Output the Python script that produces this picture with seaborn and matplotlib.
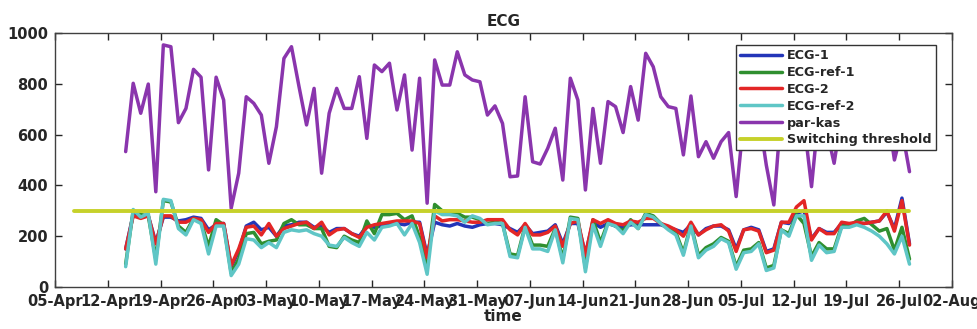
import numpy as np
import pandas as pd
import matplotlib
matplotlib.use("Agg")
import matplotlib.pyplot as plt
import matplotlib.dates as mdates
import seaborn as sns

# ---------------- data ----------------
start_date = "2021-04-14 09:00"
n_days = 105

ecg_1 = [150, 285, 275, 280, 175, 275, 275, 260, 265, 275,
         270, 225, 245, 250, 80, 140, 240, 255, 225, 235,
         200, 240, 245, 255, 255, 235, 240, 215, 230, 230,
         210, 200, 240, 235, 240, 245, 250, 245, 255, 255,
         125, 255, 245, 240, 250, 240, 235, 245, 250, 250,
         245, 230, 215, 245, 210, 215, 220, 245, 170, 250,
         250, 130, 255, 235, 250, 240, 235, 245, 245, 245,
         245, 245, 235, 225, 215, 245, 205, 230, 240, 240,
         225, 150, 225, 235, 225, 140, 150, 255, 250, 290,
         300, 190, 230, 215, 215, 250, 245, 250, 250, 255,
         260, 295, 230, 350, 170]

ecg_ref_1 = [90, 300, 285, 280, 110, 340, 335, 240, 215, 270,
             255, 160, 265, 245, 55, 110, 210, 215, 170, 180,
             185, 250, 265, 245, 245, 230, 230, 160, 155, 200,
             185, 175, 260, 210, 285, 285, 290, 265, 280, 195,
             90, 325, 300, 295, 290, 275, 275, 265, 250, 255,
             250, 130, 125, 240, 165, 165, 160, 230, 110, 275,
             270, 75, 265, 175, 255, 240, 220, 265, 230, 290,
             280, 250, 230, 215, 135, 245, 125, 155, 170, 195,
             180, 80, 145, 150, 175, 75, 85, 225, 210, 285,
             250, 120, 175, 150, 150, 240, 240, 260, 270, 245,
             220, 230, 145, 235, 110]

ecg_2 = [150, 280, 270, 280, 170, 280, 280, 255, 255, 270,
         265, 215, 250, 250, 85, 150, 235, 240, 205, 250,
         200, 230, 240, 250, 255, 230, 255, 205, 225, 230,
         210, 195, 235, 245, 250, 255, 260, 260, 260, 250,
         115, 280, 260, 265, 265, 260, 255, 255, 265, 265,
         265, 225, 205, 250, 205, 205, 215, 240, 160, 250,
         260, 125, 265, 250, 265, 250, 245, 260, 255, 270,
         270, 250, 240, 225, 200, 255, 205, 225, 240, 245,
         220, 140, 225, 230, 220, 135, 145, 255, 255, 315,
         340, 185, 230, 210, 210, 255, 250, 255, 250, 255,
         260, 300, 220, 340, 165]

ecg_ref_2 = [80, 305, 275, 290, 90, 345, 340, 230, 205, 265,
             250, 130, 240, 240, 45, 90, 190, 185, 155, 175,
             155, 215, 225, 220, 225, 210, 200, 165, 160, 195,
             175, 160, 215, 185, 235, 240, 250, 205, 250, 175,
             50, 300, 285, 285, 280, 255, 280, 270, 245, 250,
             250, 120, 115, 235, 150, 150, 140, 225, 95, 270,
             265, 60, 245, 160, 250, 240, 210, 255, 230, 285,
             275, 250, 225, 205, 125, 240, 115, 145, 160, 190,
             175, 70, 135, 140, 170, 65, 75, 225, 200, 280,
             280, 105, 165, 135, 140, 235, 235, 245, 235, 220,
             200, 170, 130, 200, 90]

par_kas = [533, 802, 684, 799, 375, 953, 946, 647, 703, 857,
           826, 461, 826, 736, 310, 448, 749, 723, 677, 487,
           631, 900, 946, 789, 638, 782, 448, 684, 782, 703,
           703, 828, 585, 874, 848, 881, 697, 835, 539, 822,
           330, 894, 795, 795, 926, 835, 815, 808, 677, 713,
           644, 434, 437, 749, 493, 484, 546, 625, 421, 822,
           736, 382, 703, 487, 730, 710, 608, 789, 657, 920,
           867, 749, 710, 703, 520, 752, 513, 572, 507, 572,
           608, 356, 660, 720, 680, 480, 323, 700, 800, 750,
           650, 395, 700, 620, 487, 680, 760, 700, 780, 720,
           640, 700, 500, 620, 454]

threshold_dates = ["2021-04-07 12:00", "2021-07-27 09:00"]
threshold_values = [300, 300]

series_names = ["ECG-1", "ECG-ref-1", "ECG-2", "ECG-ref-2", "par-kas"]
series_colors = ["#2335b8", "#2f8f2f", "#e32626", "#5fc6c6", "#8a35ad"]
threshold_name = "Switching threshold"
threshold_color = "#c6d12a"

tick_start = "2021-04-05"
tick_end = "2021-08-02"

# ---------------- plot ----------------
dates = pd.date_range(start_date, periods=n_days, freq="D")
df = pd.DataFrame({"time": dates, "ECG-1": ecg_1, "ECG-ref-1": ecg_ref_1,
                   "ECG-2": ecg_2, "ECG-ref-2": ecg_ref_2, "par-kas": par_kas})
thr = pd.DataFrame({"time": pd.to_datetime(threshold_dates), "value": threshold_values})

sns.set_style("ticks")
plt.rcParams["font.family"] = ["DejaVu Sans"]
plt.rcParams["font.weight"] = "bold"

fig = plt.figure(figsize=(9.77, 3.29), dpi=100)
ax = fig.add_axes([0.0563, 0.1277, 0.918, 0.772])

for name, col in zip(series_names, series_colors):
    sns.lineplot(data=df, x="time", y=name, ax=ax, color=col, lw=2.5, label=name)
sns.lineplot(data=thr, x="time", y="value", ax=ax, color=threshold_color, lw=2.8,
             label=threshold_name)

ax.set_xlim(pd.Timestamp(tick_start), pd.Timestamp(tick_end))
ax.set_ylim(0, 1000)
ax.set_yticks(np.arange(0, 1001, 200))
ax.set_xticks(pd.date_range(tick_start, tick_end, freq="7D"))
ax.xaxis.set_major_formatter(mdates.DateFormatter("%d-%b"))

ax.tick_params(direction="in", length=5, width=1, top=True, right=True,
               labelsize=10.5, colors="#262626", pad=5)
for lab in ax.get_xticklabels() + ax.get_yticklabels():
    lab.set_fontweight("bold")
for s in ax.spines.values():
    s.set_visible(True)
    s.set_color("#404040")
    s.set_linewidth(1)

ax.set_title("ECG", fontsize=11, fontweight="bold", pad=5)
ax.set_xlabel("time", fontsize=11, fontweight="bold", labelpad=0)
ax.set_ylabel("")

leg = ax.legend(loc="upper right", bbox_to_anchor=(0.982, 0.951), borderaxespad=0,
                frameon=True, fancybox=False, framealpha=1, edgecolor="#333333",
                prop={"weight": "bold", "size": 9.2}, handlelength=3.3,
                handletextpad=0.4, labelspacing=0.3, borderpad=0.3)
leg.get_frame().set_linewidth(1)

fig.savefig("out.png", dpi=100)
